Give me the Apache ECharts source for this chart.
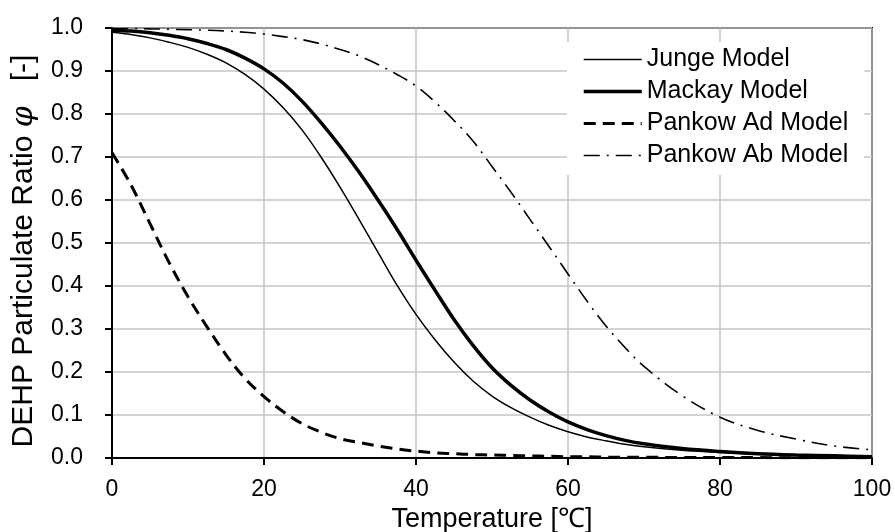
<!DOCTYPE html>
<html>
<head>
<meta charset="utf-8">
<title>DEHP particulate ratio</title>
<script src="https://cdn.jsdelivr.net/npm/echarts@6/dist/echarts.min.js"></script>
<style>
  html, body { margin: 0; padding: 0; background: #fff; }
  #chart { width: 895px; height: 532px; }
</style>
</head>
<body>
<div id="chart"></div>
<script>
// temperature [°C], shared by all four curves
var temps = [0, 2.5, 5, 7.5, 10, 12.5, 15, 17.5, 20, 22.5, 25, 27.5, 30, 32.5, 35, 37.5,
  40, 42.5, 45, 47.5, 50, 52.5, 55, 57.5, 60, 62.5, 65, 67.5, 70, 75, 80, 85, 90, 95, 100];

var junge = [0.99, 0.985, 0.977, 0.967, 0.955, 0.939, 0.919, 0.892, 0.858, 0.815, 0.763, 0.7,
  0.63, 0.555, 0.478, 0.402, 0.334, 0.275, 0.223, 0.179, 0.144, 0.117, 0.095, 0.076, 0.061,
  0.049, 0.04, 0.032, 0.026, 0.018, 0.013, 0.009, 0.006, 0.004, 0.003];

var mackay = [0.995, 0.993, 0.989, 0.983, 0.975, 0.964, 0.95, 0.93, 0.905, 0.872, 0.83, 0.78,
  0.725, 0.665, 0.6, 0.532, 0.46, 0.39, 0.322, 0.262, 0.21, 0.169, 0.135, 0.107, 0.084,
  0.066, 0.052, 0.041, 0.033, 0.022, 0.015, 0.01, 0.007, 0.005, 0.003];

var pankowAd = [0.71, 0.635, 0.545, 0.455, 0.375, 0.305, 0.24, 0.185, 0.143, 0.108, 0.08, 0.06,
  0.045, 0.036, 0.028, 0.021, 0.016, 0.012, 0.01, 0.008, 0.007, 0.006, 0.005, 0.004, 0.003,
  0.003, 0.002, 0.002, 0.002, 0.001, 0.001, 0.001, 0.0005, 0.0005, 0.0003];

var pankowAb = [0.999, 0.999, 0.998, 0.997, 0.996, 0.995, 0.993, 0.99, 0.986, 0.98, 0.973, 0.963,
  0.95, 0.935, 0.915, 0.892, 0.865, 0.828, 0.785, 0.737, 0.678, 0.618, 0.555, 0.492, 0.428,
  0.365, 0.307, 0.257, 0.213, 0.145, 0.095, 0.064, 0.044, 0.028, 0.019];

var seriesNames = ['Junge Model', 'Mackay Model', 'Pankow Ad Model', 'Pankow Ab Model'];
var lineWidths = [1.5, 3.5, 3, 1.6];
var lineDashes = ['solid', 'solid', [12, 7], [16, 7, 2, 7]];

var FONT = '"Liberation Sans", Arial, sans-serif';

function pairs(ys) {
  return temps.map(function (t, i) { return [t, ys[i]]; });
}

function makeSeries(i, ys) {
  return {
    name: seriesNames[i],
    type: 'line',
    data: pairs(ys),
    smooth: 0.35,
    symbol: 'none',
    showSymbol: false,
    clip: true,
    lineStyle: { color: '#000', width: lineWidths[i], type: lineDashes[i], cap: 'butt' },
    itemStyle: { color: '#000' }
  };
}

var chart = echarts.init(document.getElementById('chart'), null, { renderer: 'canvas' });

chart.setOption({
  animation: false,
  backgroundColor: '#fff',
  textStyle: { fontFamily: FONT, color: '#000' },
  grid: {
    left: 112, right: 23, top: 28, bottom: 74,
    containLabel: false,
    outerBoundsMode: 'none',
    show: true, borderColor: '#000', borderWidth: 2, backgroundColor: 'transparent'
  },
  legend: {
    data: seriesNames.map(function (n, i) {
      return {
        name: n,
        lineStyle: { color: '#000', width: lineWidths[i], type: lineDashes[i] }
      };
    }),
    orient: 'vertical',
    left: 567,
    top: 42,
    backgroundColor: '#fff',
    padding: [5, 16, 7, 15],
    itemWidth: 58,
    itemHeight: 14,
    itemGap: 7,
    itemStyle: { opacity: 0, borderWidth: 0 },
    textStyle: { fontFamily: FONT, fontSize: 25, color: '#000', lineHeight: 25 }
  },
  xAxis: {
    type: 'value',
    min: 0,
    max: 100,
    interval: 20,
    name: 'Temperature [℃]',
    nameLocation: 'middle',
    nameGap: 44,
    nameTextStyle: { fontFamily: FONT, fontSize: 27, color: '#000' },
    axisLine: { show: true, onZero: false, lineStyle: { color: '#000', width: 2 } },
    axisTick: { show: true, inside: false, length: 7, lineStyle: { color: '#000', width: 2 } },
    axisLabel: { fontFamily: FONT, fontSize: 23, color: '#000', margin: 20 },
    splitLine: { show: true, lineStyle: { color: '#c4c4c4', width: 1.5 } }
  },
  yAxis: {
    type: 'value',
    min: 0,
    max: 1,
    interval: 0.1,
    name: '{t|DEHP Particulate Ratio }{p|\u03c6}{t|   [-]}',
    nameLocation: 'middle',
    nameGap: 73,
    nameRotate: 90,
    nameTextStyle: {
      fontFamily: FONT, fontSize: 30, color: '#000', padding: [0, 16, 0, 0],
      rich: {
        t: { fontFamily: FONT, fontSize: 30, color: '#000' },
        p: { fontFamily: '"DejaVu Serif", serif', fontStyle: 'italic', fontSize: 30, color: '#000' }
      }
    },
    axisLine: { show: true, lineStyle: { color: '#000', width: 2 } },
    axisTick: { show: true, inside: false, length: 7, lineStyle: { color: '#000', width: 2 } },
    axisLabel: {
      fontFamily: FONT, fontSize: 23, color: '#000', margin: 29,
      formatter: function (v) { return v.toFixed(1); }
    },
    splitLine: { show: true, lineStyle: { color: '#c4c4c4', width: 1.5 } }
  },
  series: [
    makeSeries(0, junge),
    makeSeries(1, mackay),
    makeSeries(2, pankowAd),
    makeSeries(3, pankowAb)
  ]
});
</script>
</body>
</html>
